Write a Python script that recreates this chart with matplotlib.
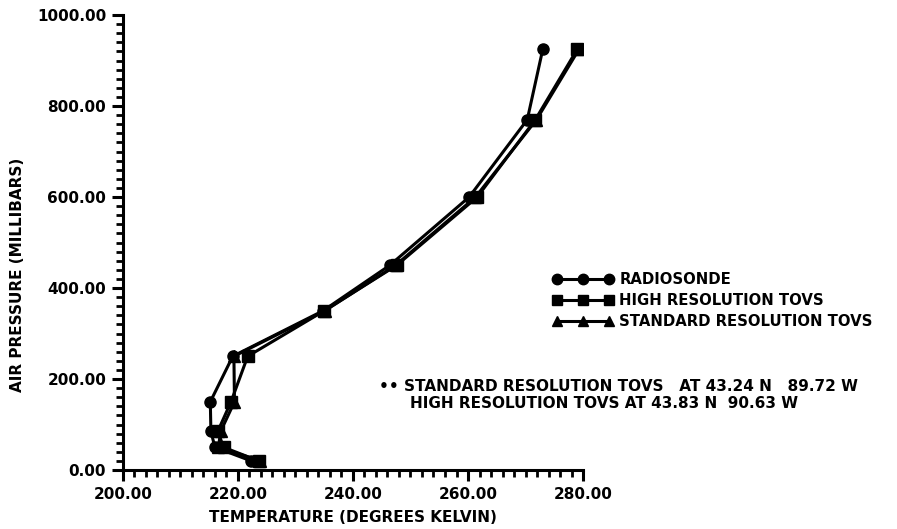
import matplotlib
matplotlib.use("Agg")
import matplotlib.pyplot as plt
from matplotlib.lines import Line2D
from matplotlib.ticker import MultipleLocator, FormatStrFormatter

# Temperature profiles (K) at pressure levels (mb)
pressure = [925, 770, 600, 450, 350, 250, 150, 85, 50, 20]
radiosonde = [273.0, 270.3, 260.2, 246.4, 234.8, 219.1, 215.2, 215.3, 216.0, 222.3]
high_res_tovs = [279.0, 271.7, 261.6, 247.6, 235.0, 221.7, 218.8, 216.5, 217.5, 223.6]
std_res_tovs = [279.3, 271.9, 261.3, 247.4, 235.1, 219.3, 219.4, 217.0, 216.6, 223.9]

x_limits = (200, 280)
y_limits = (0, 1000)

legend_labels = ["RADIOSONDE", "HIGH RESOLUTION TOVS", "STANDARD RESOLUTION TOVS"]
note_lines = ["\u2022\u2022 STANDARD RESOLUTION TOVS   AT 43.24 N   89.72 W",
              "HIGH RESOLUTION TOVS AT 43.83 N  90.63 W"]

plt.rcParams["font.family"] = ["DejaVu Sans"]
plt.rcParams["font.weight"] = "bold"

fig = plt.figure(figsize=(8.97, 5.29), dpi=100)
ax = fig.add_axes([0.137, 0.1115, 0.513, 0.8600])

style = dict(color="black", linewidth=2.2, markersize=8)
ax.plot(radiosonde, pressure, marker="o", **style)
ax.plot(high_res_tovs, pressure, marker="s", **style)
ax.plot(std_res_tovs, pressure, marker="^", **style)

ax.set_xlim(*x_limits)
ax.set_ylim(*y_limits)

for side in ("top", "right"):
    ax.spines[side].set_visible(False)
for side in ("left", "bottom"):
    ax.spines[side].set_linewidth(2.2)

ax.xaxis.set_major_locator(MultipleLocator(20))
ax.xaxis.set_minor_locator(MultipleLocator(2))
ax.yaxis.set_major_locator(MultipleLocator(200))
ax.yaxis.set_minor_locator(MultipleLocator(20))
ax.xaxis.set_major_formatter(FormatStrFormatter("%.2f"))
ax.yaxis.set_major_formatter(FormatStrFormatter("%.2f"))

ax.tick_params(axis="both", which="major", direction="out", length=8, width=2.2,
               labelsize=11, pad=4)
ax.tick_params(axis="both", which="minor", direction="out", length=5, width=2.0)
for lab in ax.get_xticklabels() + ax.get_yticklabels():
    lab.set_fontweight("bold")

ax.set_xlabel("TEMPERATURE (DEGREES KELVIN)", fontsize=11, fontweight="bold", labelpad=6)
fig.text(18 / 897, 1 - 275 / 529, "AIR PRESSURE (MILLIBARS)", rotation=90,
         fontsize=11, fontweight="bold", ha="center", va="center")

handles = [
    Line2D([], [], color="black", linewidth=2.2, marker="o", markersize=7.5),
    Line2D([], [], color="black", linewidth=2.2, marker="s", markersize=7.5),
    Line2D([], [], color="black", linewidth=2.2, marker="^", markersize=7.5),
]
leg = fig.legend(handles, legend_labels, loc="upper left",
                 bbox_to_anchor=(0.601, 0.511), frameon=False, numpoints=3,
                 handlelength=4.1, handletextpad=0.4, labelspacing=0.4,
                 prop={"size": 10.7, "weight": "bold"})

fig.text(0.423, 0.270, note_lines[0], fontsize=11, fontweight="bold", va="center")
fig.text(0.457, 0.238, note_lines[1], fontsize=11, fontweight="bold", va="center")

fig.savefig("out.png", dpi=100)
